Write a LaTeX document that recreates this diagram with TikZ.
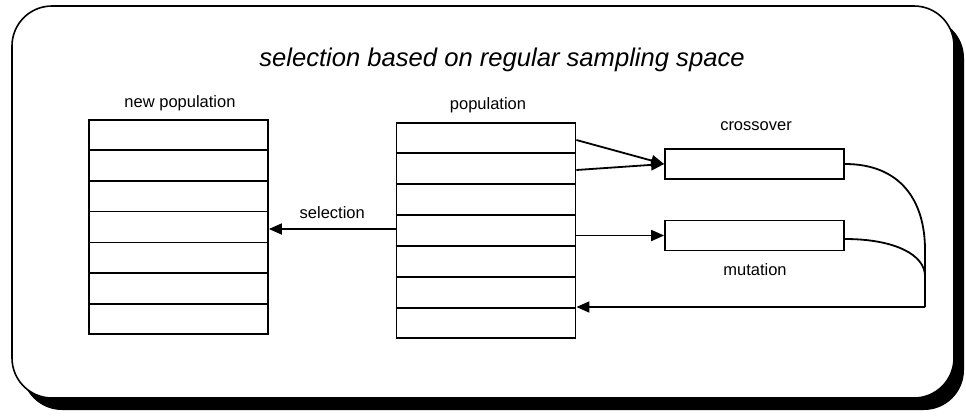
\documentclass[tikz,border=0pt]{standalone}
\usepackage{fontspec}
\setmainfont{Liberation Sans}
\usetikzlibrary{arrows.meta,calc}
\begin{document}
\begin{tikzpicture}[x=1pt,y=-1pt,
  lbl/.style={font=\fontsize{16.5}{18}\selectfont, inner sep=0pt},
  tbl/.style={draw, line width=1.8pt, minimum width=179pt, inner sep=0pt},
  opbox/.style={draw, line width=1.8pt, minimum width=179pt, minimum height=30pt, inner sep=0pt},
  conn/.style={line width=1.8pt},
  arr/.style={conn, -{Triangle[length=13pt,width=11pt]}}]
\useasboundingbox (0,0) rectangle (966,416);
% frame with shadow
\fill[black, rounded corners=40pt] (22,18) rectangle (964,410);
\filldraw[fill=white, draw=black, line width=1.6pt, rounded corners=40pt] (12,6) rectangle (954,398);
% title
\node[font=\fontsize{25.6}{28}\selectfont\itshape, inner sep=0pt] (title) at (502,60) {selection based on regular sampling space};
% tables
\node[tbl, minimum height=214pt] (newpop) at (178.5,227) {};
\node[tbl, minimum height=215pt] (pop) at (486,230.5) {};
\foreach \i in {1,...,6}{
  \draw[conn] ($(newpop.north west)!\i/7!(newpop.south west)$) -- ($(newpop.north east)!\i/7!(newpop.south east)$);
  \draw[conn] ($(pop.north west)!\i/7!(pop.south west)$) -- ($(pop.north east)!\i/7!(pop.south east)$);
}
\node[lbl] (newpoplbl) at (180,103) {new population};
\node[lbl] (poplbl) at (488,105) {population};
% operator boxes
\node[opbox] (cross) at (754.5,164) {};
\node[opbox] (mut) at (754.5,235.5) {};
\node[lbl] (crosslbl) at (756,126) {crossover};
\node[lbl] (mutlbl) at (755,270) {mutation};
% connectors
\draw[arr] (pop.east |- 0,140) -- (cross.west);
\draw[arr] (pop.east |- 0,170) -- (cross.west);
\draw[arr] (pop.east |- mut.west) -- (mut.west);
\draw[arr] (pop.west |- 0,229) -- node[lbl, above=9pt] (sellbl) {selection} (newpop.east |- 0,229);
\coordinate (join) at (925,307);
\draw[conn] (cross.east) .. controls (900,164) and (925,200) .. (925,250) -- (join);
\draw[conn] (mut.east |- 0,239) .. controls (895,239) and (925,255) .. (925,276);
\draw[arr] (join) -- (pop.east |- join);
\end{tikzpicture}
\end{document}
